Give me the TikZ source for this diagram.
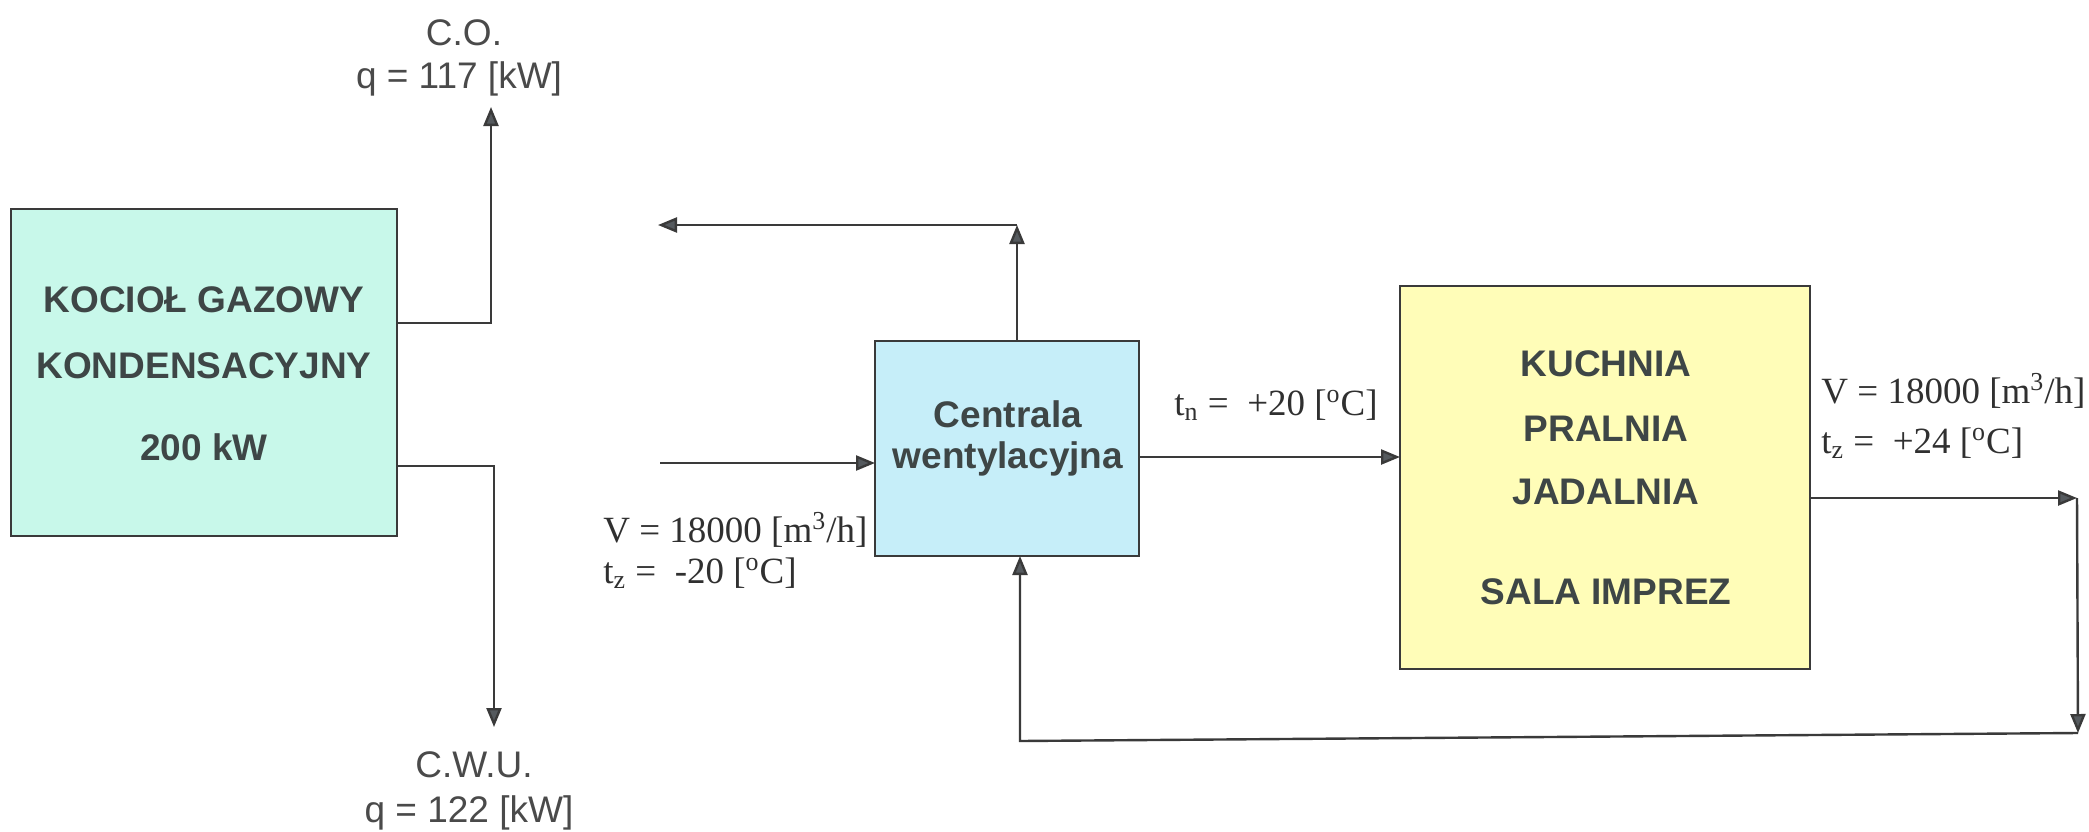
\documentclass[tikz,border=0pt]{standalone}
\usepackage{fontspec}
\setmainfont{Liberation Serif}
\setsansfont{Liberation Sans}
\usetikzlibrary{arrows.meta}
\definecolor{lblcol}{HTML}{3E4646}
\definecolor{sanscol}{HTML}{4A4A4A}
\definecolor{serifcol}{HTML}{303030}
\definecolor{boilerfill}{HTML}{C8F8EA}
\definecolor{centfill}{HTML}{C6EEF9}
\definecolor{kuchfill}{HTML}{FFFDB8}
\definecolor{linecol}{HTML}{3A3A3A}
\definecolor{headcol}{HTML}{555A5E}
\begin{document}
\begin{tikzpicture}[x=0.5pt,y=-0.5pt,
  boxstyle/.style={draw=linecol, line width=1.3pt, inner sep=0pt, outer sep=0pt},
  conn/.style={draw=linecol, line width=1.2pt},
  arr/.style={conn, -{Triangle[length=9.5pt,width=7.5pt,fill=headcol]}},
  boldlbl/.style={font=\sffamily\bfseries\fontsize{18.5}{22}\selectfont, text=lblcol, anchor=base, inner sep=0pt},
  sanslbl/.style={font=\sffamily\fontsize{18.5}{22}\selectfont, text=sanscol, anchor=base, inner sep=0pt},
  seriflbl/.style={font=\rmfamily\fontsize{18.5}{22}\selectfont, text=serifcol, anchor=base west, inner sep=0pt}
]
\useasboundingbox (0,0) rectangle (2089,831);

% boxes
\node[boxstyle, fill=boilerfill, minimum width=193pt, minimum height=163.5pt] (boiler) at (204,372.5) {};
\node[boxstyle, fill=centfill, minimum width=132pt, minimum height=107.5pt] (centrala) at (1007,448.5) {};
\node[boxstyle, fill=kuchfill, minimum width=205pt, minimum height=191.5pt] (kuchnia) at (1605,477.5) {};

% box texts
\node[boldlbl] (b1) at (204,312) {KOCIOŁ GAZOWY};
\node[boldlbl] (b2) at (204,378) {KONDENSACYJNY};
\node[boldlbl] (b3) at (204,460) {200 kW};

\node[boldlbl] (c1) at (1008,427) {Centrala};
\node[boldlbl] (c2) at (1008,468) {wentylacyjna};

\node[boldlbl] (k1) at (1606,376) {KUCHNIA};
\node[boldlbl] (k2) at (1606,441) {PRALNIA};
\node[boldlbl] (k3) at (1606,504) {JADALNIA};
\node[boldlbl] (k4) at (1606,604) {SALA IMPREZ};

% C.O. / C.W.U. labels
\node[sanslbl] (co) at (464,45) {C.O.};
\node[sanslbl] (coq) at (459,88) {q = 117 [kW]};
\node[sanslbl] (cwu) at (474,777) {C.W.U.};
\node[sanslbl] (cwuq) at (469,822) {q = 122 [kW]};

% air labels
\node[seriflbl] (tn) at (1174,415) {t\textsubscript{n} =\ \ +20 [\textsuperscript{o}C]};
\node[seriflbl] (vin) at (603,542) {V = 18000 [m\textsuperscript{3}/h]};
\node[seriflbl] (tzin) at (603,583) {t\textsubscript{z} =\ \ -20 [\textsuperscript{o}C]};
\node[seriflbl] (vout) at (1821,403) {V = 18000 [m\textsuperscript{3}/h]};
\node[seriflbl] (tzout) at (1821,453) {t\textsubscript{z} =\ \ +24 [\textsuperscript{o}C]};

% coordinates
\coordinate (coCorner) at (491,323);
\coordinate (coTop) at (491,107);
\coordinate (cwuCorner) at (494,466);
\coordinate (cwuBot) at (494,727);
\coordinate (topCorner) at (1017,225);
\coordinate (topEnd) at (658,225);
\coordinate (inStart) at (660,463);
\coordinate (supY) at (1270,457);
\coordinate (exCorner) at (2077,498);
\coordinate (exBot) at (2078,733);
\coordinate (retX) at (1020,741);

% connectors
\draw[arr] (coCorner -| boiler.east) -- (coCorner) -- (coTop);
\draw[arr] (cwuCorner -| boiler.east) -- (cwuCorner) -- (cwuBot);
\draw[arr] (topCorner |- centrala.north) -- (topCorner);
\draw[arr] (topCorner) -- (topEnd);
\draw[arr] (inStart) -- (inStart -| centrala.west);
\draw[arr] (supY -| centrala.east) -- (supY -| kuchnia.west);
\draw[arr] (exCorner -| kuchnia.east) -- (exCorner);
\draw[arr] (exCorner) -- (exBot);
\draw[arr] (exBot) -- (retX) -- (retX |- centrala.south);
\end{tikzpicture}
\end{document}
